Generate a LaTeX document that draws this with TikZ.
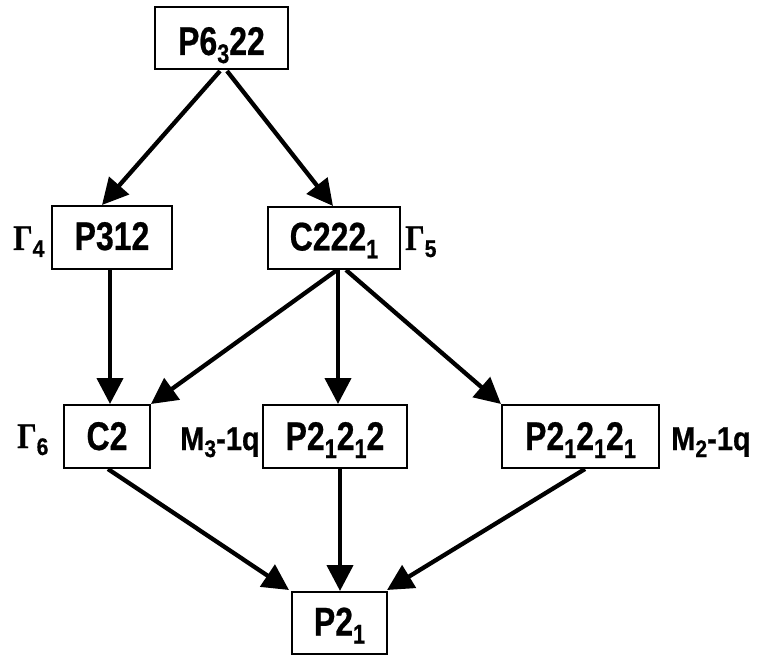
\documentclass[tikz,border=0pt]{standalone}
\usepackage{fontspec}
\setmainfont{Liberation Sans}
\newfontfamily\boxfont{Liberation Sans}[FakeStretch=0.8,FakeBold=0.6]
\newfontfamily\labfont{Liberation Sans}[FakeStretch=0.88,FakeBold=0.6]
\newfontfamily\gamfont{Liberation Serif}[FakeStretch=0.85,FakeBold=0.6]
\usetikzlibrary{arrows.meta,calc}
\newcommand\bsub[1]{\raisebox{-8pt}{\fontsize{27}{27}\selectfont #1}}
\newcommand\lsub[1]{\raisebox{-7pt}{\fontsize{24}{24}\selectfont #1}}
\newcommand\Gam[1]{{\gamfont\bfseries\fontsize{36}{36}\selectfont Γ}\lsub{#1}}
\tikzset{
  grp/.style={draw, line width=2pt, inner sep=0pt, text height=25pt, text depth=0pt,
    font=\boxfont\bfseries\fontsize{40}{40}\selectfont},
  lab/.style={inner sep=0pt, font=\labfont\bfseries\fontsize{33}{33}\selectfont},
  arr/.style={line width=4.3pt, -{Triangle[length=26pt,width=26pt]}}
}
\begin{document}
\begin{tikzpicture}[x=1pt,y=-1pt]
\useasboundingbox (0,0) rectangle (758,655);
\node[grp, minimum width=133pt, minimum height=62pt, text height=34pt] (A) at (221.5,38) {P6\bsub{3}22};
\node[grp, minimum width=120pt, minimum height=63pt] (B) at (112,237.5) {P312};
\node[grp, minimum width=132pt, minimum height=62pt] (C) at (334,238) {C222\bsub{1}};
\node[grp, minimum width=86pt, minimum height=63pt, text height=27pt] (D) at (107,436.5) {C2};
\node[grp, minimum width=144pt, minimum height=63pt, text height=27pt] (E) at (335,436.5) {P2\bsub{1}2\bsub{1}2};
\node[grp, minimum width=157pt, minimum height=63pt, text height=27pt] (F) at (580.5,436.5) {P2\bsub{1}2\bsub{1}2\bsub{1}};
\node[grp, minimum width=95pt, minimum height=62pt] (G) at (339.5,623) {P2\bsub{1}};

\node[lab, anchor=base west] (g4) at (13,250) {\Gam{4}};
\node[lab, anchor=base west] (g5) at (405,250) {\Gam{5}};
\node[lab, anchor=base west] (g6) at (17,448) {\Gam{6}};
\node[lab, anchor=base west] (m3) at (180,450) {M\lsub{3}-1q};
\node[lab, anchor=base west] (m2) at (671,450) {M\lsub{2}-1q};

\draw[arr] ($(A.south)+(-1.5,1)$) -- ($(B.north)+(-10,0)$);
\draw[arr] ($(A.south)+(5.5,1)$) -- ($(C.north)+(-1,0)$);
\draw[arr] ($(B.south)+(-2,0)$) -- ($(D.north)+(3,0)$);
\draw[arr] ($(C.south)+(3,0)$) -- (D.north east);
\draw[arr] ($(C.south)+(4,0)$) -- ($(E.north)+(3,0)$);
\draw[arr] ($(C.south)+(12,0)$) -- (F.north west);
\draw[arr] ($(D.south)+(1,0)$) -- ($(G.north west)+(-2,-1)$);
\draw[arr] ($(E.south)+(5,0)$) -- ($(G.north)+(0.5,0)$);
\draw[arr] ($(F.south)+(4.5,0)$) -- ($(G.north east)+(-1,-1)$);
\end{tikzpicture}
\end{document}
